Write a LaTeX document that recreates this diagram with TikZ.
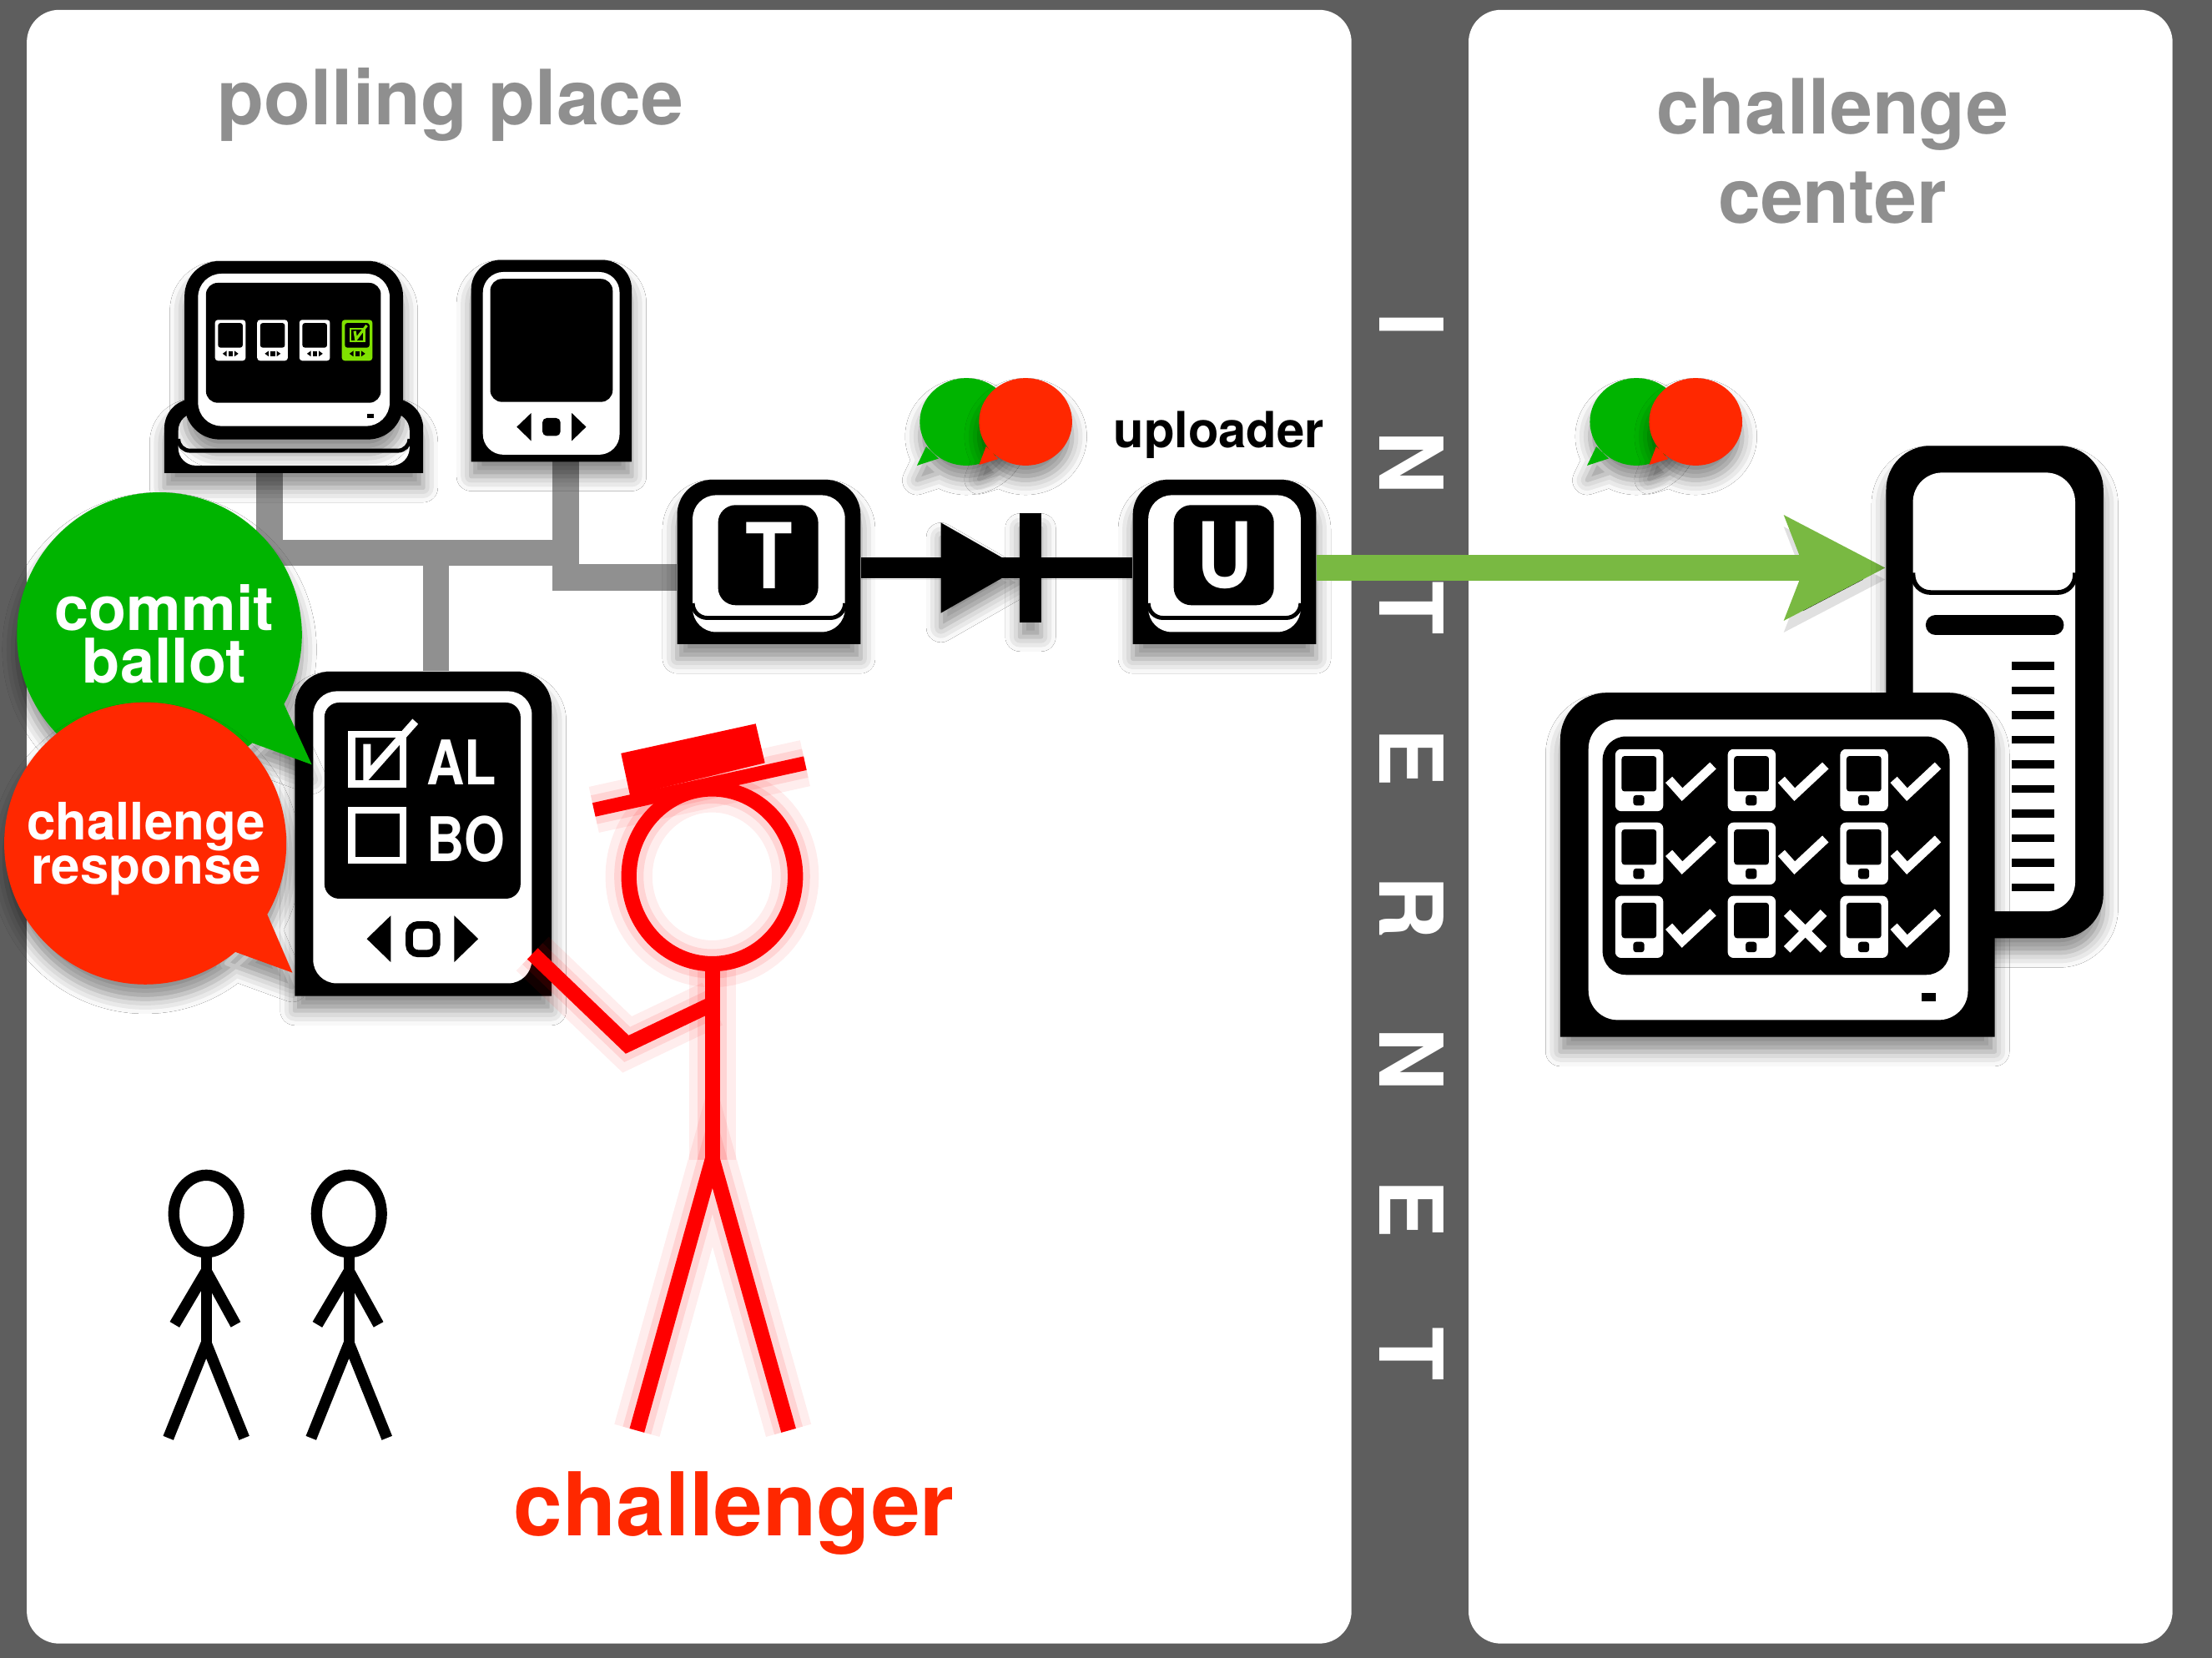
\documentclass[tikz,border=0pt]{standalone}
\usepackage{fontspec}
\setmainfont{TeX Gyre Heros}
\usepackage{graphicx}
\usetikzlibrary{arrows.meta,calc,fit,shadows.blur}

\definecolor{panelgray}{RGB}{94,94,94}
\definecolor{headgray}{RGB}{143,143,143}
\definecolor{wiregray}{RGB}{144,144,144}
\definecolor{commitgreen}{RGB}{0,180,0}
\definecolor{challred}{RGB}{255,40,0}
\definecolor{figred}{RGB}{255,0,0}
\definecolor{uplinkgreen}{RGB}{121,185,66}
\definecolor{screenlime}{RGB}{128,226,0}

% rounded top corners, flat bottom edge
\newcommand{\devbody}[6][]{%
  \fill[#1] (#2,#5) [rounded corners=#6] -- (#2,#3) -- (#4,#3) [sharp corners] -- (#4,#5) -- cycle;}

\tikzset{
  heading/.style={text=headgray, font=\bfseries\fontsize{26}{30}\selectfont, inner sep=0pt, anchor=base},
  bubbletext/.style={text=white, font=\bfseries\fontsize{#1}{#1}\selectfont, inner sep=0pt, anchor=base},
  netletter/.style={text=white, font=\bfseries\fontsize{30}{30}\selectfont, inner sep=0pt, rotate=-90},
  keyletter/.style={text=white, font=\bfseries\fontsize{31}{31}\selectfont, inner sep=0pt},
  choice/.style={text=white, font=\bfseries\fontsize{21}{21}\selectfont, inner sep=0pt, anchor=base west},
  region/.style={inner sep=0pt},
  devshadow/.style={blur shadow={shadow xshift=0pt, shadow yshift=-5pt, shadow blur radius=5pt, shadow opacity=45}},
  lineshadow/.style={preaction={draw=black, draw opacity=0.12, transform canvas={yshift=-4pt}}},
  wire/.style={draw=wiregray, line width=8.9pt},
  link/.style={draw=black, line width=7.2pt},
  uplink/.style={draw=uplinkgreen, line width=9.1pt, -{Stealth[length=34pt, width=34.6pt, inset=6.3pt]}},
  okmark/.style={draw=white, line width=3.1pt},
  voter/.style={line width=3.8pt},
  challenger/.style={draw=figred, line width=5.2pt},
  glow/.style={preaction={draw=figred, draw opacity=0.07, line width=16pt},
               preaction={draw=figred, draw opacity=0.10, line width=10pt}},
  % small screen thumbnail on the booth monitor
  pics/thumb/.style={code={
    \fill[#1, rounded corners=1pt] (0,0) rectangle (21.7,29);
    \fill[black, rounded corners=0.8pt] (2.2,2.3) rectangle (19.6,19.7);
    \fill[black] (5.4,24) -- (8.2,22) -- (8.2,26) -- cycle;
    \fill[black] (9.5,22.4) rectangle (12.6,25.6);
    \fill[black] (16.6,24) -- (13.8,22) -- (13.8,26) -- cycle;
  }},
  % tablet tile on the audit console
  pics/pad/.style={code={
    \fill[white, rounded corners=2pt] (0,0) rectangle (34,44);
    \fill[black, rounded corners=1pt] (4.5,4.9) rectangle (29.2,30);
    \fill[black, rounded corners=1pt] (12.7,32.6) rectangle (20.6,40);
  }},
  % green/red chat pair
  pics/chat/.style={code={
    \fill[commitgreen, devshadow] (0,0) ellipse [x radius=33, y radius=31]
      (-28.5,17.5) -- (-19.6,26) -- (-35,31) -- cycle;
    \fill[challred, devshadow] (42,0) ellipse [x radius=33, y radius=31]
      (14,17.4) -- (22.6,26.3) -- (9,30.5) -- cycle;
  }},
}

\begin{document}
\begin{tikzpicture}[x=0.016907cm, y=-0.016907cm]
  % Frame and the two rooms
  \useasboundingbox (0,0) rectangle (1568,1175);
  \fill[panelgray] (0,0) rectangle (1568,1175);
  \fill[white, rounded corners=11pt] (19,7) rectangle (958,1165);
  \fill[white, rounded corners=11pt] (1041,7) rectangle (1540,1165);

  % Room titles
  \node[heading] (pollhead) at (319.5,88.7) {polling place};
  \node[heading] (centerhead) at (1299,95.2) {challenge};
  \node[heading] (centerhead2) at (1299,158) {center};

  % Internet strip
  \foreach \y/\ch [count=\i] in {230/I,328/N,431/T,537/E,643/R,751/N,857/E,960/T}
    \node[netletter] (net\i) at (1000.5,\y) {\ch};

  % Device outlines used as anchors
  \node[region, fit={(116.5,185) (300,335.3)}] (monitor) {};
  \node[region, fit={(334,184.3) (447.8,327.3)}] (tablet) {};
  \node[region, fit={(209,476) (391,706)}] (ballot) {};
  \node[region, fit={(480,340) (610,456.6)}] (tkey) {};
  \node[region, fit={(803,340) (933,456.6)}] (ukey) {};
  \node[region, fit={(1337,316) (1491,665)}] (tower) {};
  \node[region, fit={(1106,491) (1414,735)}] (console) {};

  % Network cabling
  \coordinate (monjack) at (191,334);
  \coordinate (padjack) at (401,327);
  \coordinate (hub) at (309,392);
  \draw[wire] (monjack) |- (hub) -- (hub -| padjack);
  \draw[wire] (padjack) |- ($(tkey.west)+(0,11)$);
  \draw[wire] (hub) -- (hub |- ballot.north);

  % Booth monitor: stand, then screen
  \devbody[devshadow]{116.5}{282.7}{300}{335.3}{10pt}
  \fill[white, rounded corners=6pt] (126.4,292.8) rectangle (290.3,330);
  \draw[line width=1.4pt, rounded corners=4pt] (126.4,311) -- (126.4,319.5) -- (290.3,319.5) -- (290.3,311);
  \fill[devshadow, rounded corners=12pt] (130.8,185) rectangle (285.7,311.5);
  \fill[white, rounded corners=8pt] (140.4,194) rectangle (276.2,302);
  \fill[rounded corners=4pt] (146,200.5) rectangle (270,285.5);
  \fill (260,293.4) rectangle (265,296.2);
  \foreach \x in {152.4,182.3,212.2}
    \pic at (\x,226.7) {thumb=white};
  \pic at (242.3,226.7) {thumb=screenlime};
  \draw[screenlime, line width=0.7pt] (248.4,233.1) rectangle (258.1,242);
  \draw[screenlime, line width=0.9pt] (251.4,234.6) -- (252.4,240.5) -- (260,230.7);

  % Blank tablet
  \devbody[devshadow]{334}{184.3}{447.8}{327.3}{10pt}
  \fill[white, rounded corners=7pt] (342.3,192.8) rectangle (439.2,322.3);
  \fill[rounded corners=4pt] (347.5,197.7) rectangle (434.3,284.9);
  \fill (366.3,302.6) -- (376.5,292.8) -- (376.5,312.5) -- cycle;
  \fill[rounded corners=1.5pt] (384.5,296.3) rectangle (397.3,309);
  \fill (415.5,302.6) -- (405.3,292.8) -- (405.3,312.5) -- cycle;

  % Ballot marking device
  \devbody[devshadow]{209}{476}{391}{706}{12pt}
  \fill[white, rounded corners=8pt] (222,490) rectangle (377,697);
  \fill[rounded corners=5pt] (230,498) rectangle (369,637);
  \draw[white, line width=2.3pt] (249.3,520.3) rectangle (285.7,555.7);
  \draw[white, line width=2.3pt] (249.3,574.3) rectangle (285.7,609.7);
  \draw[white, line width=2.6pt] (260.2,527.4) -- (260.2,550) -- (294.4,511.4);
  \node[choice] (alname) at (302,556.3) {\scalebox{0.85}[1]{AL}};
  \node[choice] (boname) at (302,610.4) {\scalebox{0.85}[1]{BO}};
  \fill (260,665.5) -- (277,649) -- (277,682) -- cycle;
  \draw[line width=2.5pt, rounded corners=3pt] (290.1,655.6) rectangle (309.4,675.9);
  \fill (339,665.5) -- (322,649) -- (322,682) -- cycle;

  % Tabulator and uploader keys
  \foreach \dx/\ch/\nm in {0/T/tlabel, 323/U/ulabel} {
    \begin{scope}[shift={(\dx,0)}]
      \devbody[devshadow]{480}{340}{610}{456.6}{12pt}
      \fill[white, rounded corners=8pt] (491,351) rectangle (599,448);
      \draw[line width=1.4pt, rounded corners=5pt] (491,428) -- (491,438) -- (599,438) -- (599,428);
      \fill[rounded corners=6pt] (509,358) rectangle (580,429);
      \node[keyletter] (\nm) at (545.5,393.6) {\scalebox{0.85}[1]{\ch}};
    \end{scope}
  }

  % One-way link from T to U
  \coordinate (valve) at (723,402.5);
  \draw[link, lineshadow] (tkey.east |- valve) -- (ukey.west |- valve);
  \fill[devshadow, shift={(valve)}] (-56,-32) -- (0,0) -- (-56,32) -- cycle;
  \fill[devshadow, shift={(valve)}] (0,-38.5) rectangle (15,38.5);

  \node[font=\bfseries\fontsize{17}{17}\selectfont, anchor=base, inner sep=0pt] (uplabel) at (864,317.6) {uploader};
  \pic at (685,299) {chat};
  \pic at (1160,299) {chat};

  % Upload to the challenge center
  \draw[uplink, lineshadow] (ukey.east |- valve) -- (tower.west |- valve);

  % Server tower
  \fill[devshadow, rounded corners=15pt] (1337,316) rectangle (1491,665);
  \fill[white, rounded corners=10pt] (1356,335) rectangle (1471,646);
  \draw[line width=1.6pt, rounded corners=6pt] (1356,406) -- (1356,420) -- (1471,420) -- (1471,406);
  \draw[line width=6.7pt, line cap=round] (1372,443) -- (1456,443);
  \foreach \i in {0,...,9}
    \fill (1426,472+17.45*\i-2.9) rectangle (1456,472+17.45*\i+2.9);

  % Audit console
  \devbody[devshadow]{1106}{491}{1414}{735}{16pt}
  \fill[white, rounded corners=10pt] (1126,510) rectangle (1395,723);
  \fill[rounded corners=8pt] (1136,522) rectangle (1382,691);
  \fill (1362,704) rectangle (1372,710);
  \foreach \c in {0,1,2}
    \foreach \r in {0,1,2}
      \pic at (1145+79.7*\c,531+52*\r) {pad};
  \foreach \c/\r in {0/0,1/0,2/0,0/1,1/1,2/1,0/2,2/2}
    \draw[okmark, shift={(1145+79.7*\c,531+52*\r)}] (38,21.7) -- (47.4,32.2) -- (69.3,11.7);
  \draw[okmark, shift={(1224.7,635)}] (42,12) -- (68,38) (68,12) -- (42,38);

  % Speech bubbles at the booth
  \fill[commitgreen, devshadow] (113,450) circle [radius=101]
    (200.6,497.5) -- (221,542) -- (171.6,524) -- cycle;
  \node[bubbletext=21] (commit) at (116.5,446.6) {commit};
  \node[bubbletext=21] (ballotword) at (116.5,484.4) {ballot};
  \fill[challred, devshadow] (103,597.8) circle [radius=100]
    (188,644.8) -- (207.3,689.5) -- (160.5,672.5) -- cycle;
  \node[bubbletext=17.6] (challword) at (103.6,595.6) {challenge};
  \node[bubbletext=17.6] (respword) at (103.6,626.4) {response};

  % Voters waiting in line
  \foreach \x in {146.2,247.4} {
    \draw[voter] (\x,860.3) ellipse [x radius=23, y radius=27.3];
    \draw[voter] (\x,887) -- (\x,952);
    \draw[voter] (\x-22.4,938.9) -- (\x,901) -- (\x+20.9,938.9);
    \draw[voter] (\x-26.9,1019.3) -- (\x,952.3) -- (\x+26.9,1019.3);
  }

  % Challenger
  \draw[challenger, glow] (504.8,621.2) ellipse [x radius=59, y radius=62];
  \draw[challenger, glow] (505,685) -- (505,822);
  \draw[challenger, glow] (505,711.6) -- (444.6,740.4) -- (377.5,676);
  \draw[challenger, glow] (451.5,1014) -- (505,822) -- (559,1014);
  \draw[challenger, glow, line width=4.8pt] (421,574) -- (570.7,541);
  \fill[figred] (440.2,534) -- (535.7,513) -- (542.2,540.8) -- (446.6,563.9) -- cycle;
  \node[font=\bfseries\fontsize{30}{30}\selectfont, text=challred, anchor=base, inner sep=0pt] (chalabel) at (520.3,1088.7) {challenger};
\end{tikzpicture}
\end{document}
